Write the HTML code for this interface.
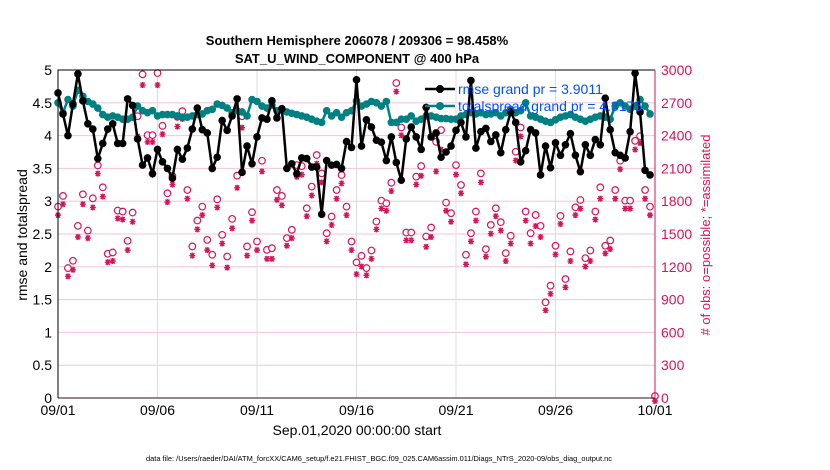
<!DOCTYPE html>
<html><head><meta charset="utf-8"><style>
body{margin:0;background:#fff;}
svg{display:block;font-family:"Liberation Sans",sans-serif;}
</style></head><body>
<svg id="chart" width="830" height="470" viewBox="0 0 830 470" xmlns="http://www.w3.org/2000/svg">
<text x="357" y="45" text-anchor="middle" font-size="13" font-weight="bold">Southern Hemisphere 206078 / 209306 = 98.458%</text>
<text x="357" y="63" text-anchor="middle" font-size="13" font-weight="bold">SAT_U_WIND_COMPONENT @ 400 hPa</text>
<g id="grid"></g>
<g id="marks"></g>
<g id="axes"></g>
<text transform="translate(27,235) rotate(-90)" text-anchor="middle" font-size="14">rmse and totalspread</text>
<text transform="translate(710,235) rotate(-90)" text-anchor="middle" font-size="13" fill="#d6145a">
# of obs: o=possible; *=assimilated</text>
<text x="357" y="435" text-anchor="middle" font-size="14">Sep.01,2020 00:00:00 start</text>
<text x="379" y="461" text-anchor="middle" font-size="7.5" textLength="466" lengthAdjust="spacingAndGlyphs">data file: /Users/raeder/DAI/ATM_forcXX/CAM6_setup/f.e21.FHIST_BGC.f09_025.CAM6assim.011/Diags_NTrS_2020-09/obs_diag_output.nc</text>
<g>
<line x1="425" y1="89" x2="455" y2="89" stroke="#000" stroke-width="2.5"/><circle cx="440" cy="89" r="4" fill="#000"/>
<text x="458" y="94" font-size="14" fill="#0050ff">rmse grand pr = 3.9011</text>
<line x1="425" y1="106" x2="455" y2="106" stroke="#008080" stroke-width="2.5"/><circle cx="440" cy="106" r="4" fill="#008080"/>
<text x="458" y="111" font-size="14" fill="#0050ff">totalspread grand pr = 4.3175</text>
</g>
</svg>
<script>
const dayLabels=["09/01","09/06","09/11","09/16","09/21","09/26","10/01"];
const leftTicks=[0,0.5,1,1.5,2,2.5,3,3.5,4,4.5,5];
const rightTicks=[0,300,600,900,1200,1500,1800,2100,2400,2700,3000];
const rmse=[4.65,4.33,4.0,4.48,4.94,4.53,4.18,4.1,3.65,3.88,4.1,4.18,3.88,3.88,4.56,4.46,3.95,3.55,3.66,3.42,3.79,3.6,3.5,3.35,3.79,3.64,3.81,4.1,4.42,4.09,4.04,3.5,3.67,4.23,4.08,4.3,4.56,3.44,3.84,3.57,3.98,
4.27,4.25,4.53,4.27,4.41,3.5,3.57,3.42,3.66,3.65,3.52,3.52,2.8,3.62,3.55,3.56,3.5,3.91,3.82,4.85,3.84,4.24,4.13,3.93,3.9,3.62,3.98,3.59,3.32,3.95,4.13,3.98,3.79,4.43,3.98,4.04,3.67,3.75,3.84,4.08,
4.2,3.98,4.84,3.81,4.06,4.11,3.91,4.01,3.74,4.09,4.36,4.2,3.6,3.77,4.09,4.04,3.4,3.84,3.51,3.89,3.7,3.86,4.03,3.7,3.45,3.86,3.7,3.94,3.86,4.57,4.09,3.74,3.7,3.66,4.06,4.95,4.36,3.47,3.4];
const spread=[4.5,4.35,4.55,4.45,4.69,4.6,4.52,4.48,4.42,4.32,4.28,4.3,4.28,4.25,4.25,4.28,4.45,4.38,4.35,4.38,4.3,4.32,4.32,4.32,4.3,4.28,4.28,4.3,4.32,4.33,4.38,4.4,4.48,4.46,4.42,4.35,4.38,4.36,4.3,4.55,4.52,
4.45,4.42,4.46,4.38,4.4,4.36,4.34,4.32,4.3,4.28,4.25,4.22,4.2,4.38,4.3,4.35,4.28,4.35,4.38,4.53,4.45,4.48,4.52,4.5,4.45,4.52,4.2,4.2,4.25,4.25,4.3,4.22,4.25,4.3,4.3,4.28,4.26,4.26,4.25,4.25,
4.3,4.32,4.35,4.33,4.35,4.32,4.33,4.35,4.3,4.35,4.4,4.35,4.38,4.5,4.3,4.28,4.25,4.22,4.2,4.24,4.28,4.3,4.32,4.28,4.25,4.22,4.25,4.28,4.3,4.28,4.25,4.45,4.5,4.45,4.4,4.45,4.55,4.45,4.33];
const possible=[1732,1830,1170,1237,1556,1845,1513,1808,2109,1909,1301,1313,1696,1687,1419,1678,2559,2942,2386,2386,2954,2471,1854,2012,2553,2605,1884,1368,1605,1732,1428,1292,1799,1474,1276,1620,2015,2559,1368,1681,1413,
2152,1337,1352,1884,1830,1444,1520,2112,2103,1717,1915,2204,2036,1489,1641,1884,2021,1732,1413,1222,1282,1170,1331,1596,1787,1763,1951,2863,2456,1495,1495,2006,2103,1459,1541,2325,2432,1769,1672,2112,
1930,1292,1489,1687,2036,1343,1565,1717,1590,1307,1465,2234,2456,1687,1489,1656,1556,857,1009,1374,1647,1070,1322,1726,1793,1261,1331,1687,1909,1374,1422,1884,2152,1787,1787,2334,2377,1884,1732,0];
const assimilated=[1700,1800,1140,1200,1500,1800,1490,1770,2080,1870,1270,1280,1670,1660,1380,1640,2420,2890,2370,2370,2890,2440,1820,1980,2510,2580,1850,1330,1570,1700,1380,1240,1770,1440,1220,1580,1950,2500,1330,1650,1380,
2100,1300,1300,1840,1790,1420,1490,2050,2070,1690,1880,2170,2000,1460,1610,1850,1990,1700,1380,1160,1230,1150,1300,1570,1760,1740,1920,2830,2430,1470,1470,1980,2060,1410,1500,2100,2300,1740,1640,2070,
1900,1250,1460,1650,2000,1320,1530,1690,1560,1280,1440,2200,2420,1650,1440,1600,1500,830,980,1340,1620,1040,1280,1700,1760,1230,1280,1660,1850,1350,1390,1850,2120,1760,1760,2300,2360,1850,1700,0];
const L=58,R=655,T=70,B=398,NS="http://www.w3.org/2000/svg";
const xs=i=>L+(R-L)*(i/120);
const yl=v=>B-(B-T)*v/5;
const yr=v=>B-(B-T)*v/3000;
function mk(tag,attrs,parent){const e=document.createElementNS(NS,tag);for(const k in attrs)e.setAttribute(k,attrs[k]);parent.appendChild(e);return e;}
const grid=document.getElementById('grid'),marks=document.getElementById('marks'),axes=document.getElementById('axes');
leftTicks.forEach((v,i)=>{if(v>0&&v<5){const g=mk('line',{x1:L,x2:R,y1:yl(v),y2:yl(v),stroke:'#f3c6d6','stroke-width':1},grid);

}
const t=mk('text',{x:L-6,y:yl(v)+5,'text-anchor':'end','font-size':14},axes);t.textContent=v;

});
rightTicks.forEach(v=>{const t=mk('text',{x:R+6,y:yr(v)+5,'font-size':14,fill:'#d6145a'},axes);t.textContent=v;

});
dayLabels.forEach((d,i)=>{const x=L+(R-L)*i/6;if(i>0&&i<6){const g=mk('line',{x1:x,x2:x,y1:T,y2:B,stroke:'#dddddd'},grid);

}
const t=mk('text',{x:x,y:B+17,'text-anchor':'middle','font-size':14},axes);t.textContent=d;

});
const fr=mk('path',{d:`M${L},${B}V${T}H${R}`,fill:'none',stroke:'#000'},axes);


const bx=mk('line',{x1:L,x2:R,y1:B,y2:B,stroke:'#3a0a1a'},axes);


const ra=mk('line',{x1:R,x2:R,y1:T,y2:B,stroke:'#d6145a'},axes);


possible.forEach((v,i)=>{const c=mk('circle',{cx:xs(i),cy:yr(v)-2,r:3.3,fill:'#fff',stroke:'#d6145a','stroke-width':1.2},marks);

});
assimilated.forEach((v,i)=>{const x=xs(i),y=yr(v)+3;const s=mk('path',{d:`M${x-3},${y}H${x+3}M${x-2},${y-2.5}L${x+2},${y+2.5}M${x+2},${y-2.5}L${x-2},${y+2.5}M${x},${y-3}V${y+3}`,stroke:'#d6145a','stroke-width':1.4},marks);

});
function series(arr,color,name){const p=mk('polyline',{points:arr.map((v,i)=>xs(i)+','+yl(v)).join(' '),fill:'none',stroke:color,'stroke-width':2.5},marks);


arr.forEach((v,i)=>{const c=mk('circle',{cx:xs(i),cy:yl(v),r:3.8,fill:color},marks);

});}
series(spread,'#008080','totalspread');
series(rmse,'#000000','rmse');
</script>
</body></html>
